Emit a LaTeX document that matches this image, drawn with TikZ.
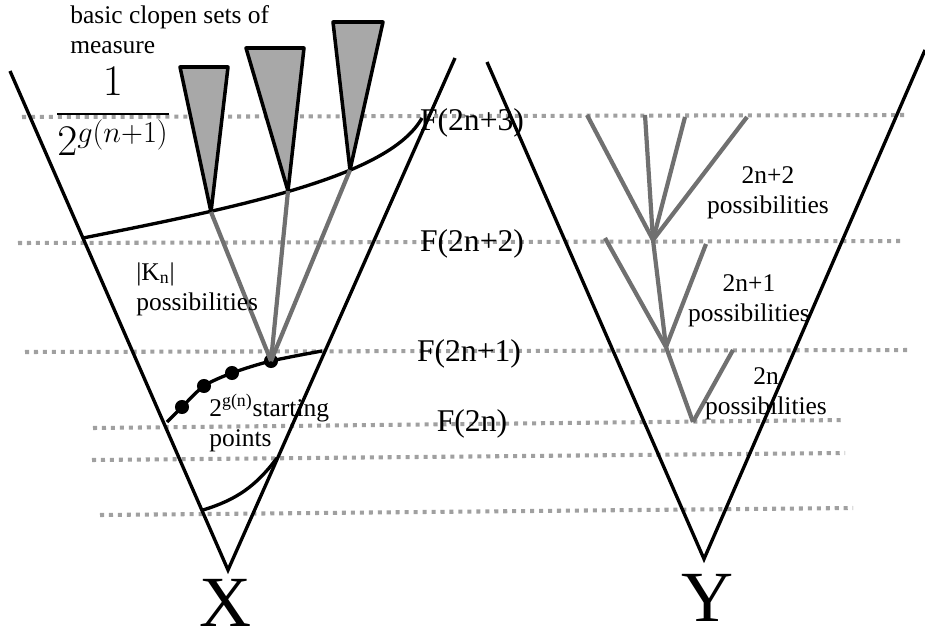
\documentclass[tikz,border=0pt]{standalone}
\usepackage{amsmath}
\usepackage{fontspec}
\setmainfont{Liberation Serif}
\usetikzlibrary{positioning}
\definecolor{branchgray}{HTML}{707070}
\definecolor{levelgray}{HTML}{A0A0A0}
\definecolor{conegray}{HTML}{A8A8A8}

\begin{document}
\begin{tikzpicture}[x=0.02cm, y=-0.02cm,
    cone/.style={black, line width=1.9pt},
    level/.style={levelgray, line width=2.3pt, dash pattern=on 2.3pt off 2.8pt},
    branch/.style={branchgray, line width=2.4pt},
    clopen/.style={draw=black, fill=conegray, line width=2pt, line join=round},
    lbl/.style={font=\fontsize{14.5}{17}\selectfont, align=center, inner sep=0pt},
    lvl/.style={font=\fontsize{18}{20}\selectfont, inner sep=0pt},
    big/.style={font=\fontsize{41}{44}\selectfont, inner sep=0pt},
    dot/.style={circle, fill=black, minimum size=8pt, inner sep=0pt}]
    \useasboundingbox (0,0) rectangle (925,639);

    % levels F(.)
    \draw[level] (22,117) -- (907,115);
    \draw[level] (18,243) -- (903,241);
    \draw[level] (25,352) -- (910,350);
    \draw[level] (93,428) -- (845,420);
    \draw[level] (92,460) -- (845,453);
    \draw[level] (100,515) -- (853,508);

    \node[lvl] (f3) at (472,123) {F(2n+3)};
    \node[lvl] (f2) at (472,244) {F(2n+2)};
    \node[lvl] (f1) at (469,354) {F(2n+1)};
    \node[lvl] (f0) at (472,424) {F(2n)};

    % the two cones
    \coordinate (xapex) at (228,570);
    \coordinate (yapex) at (704,559);
    \draw[cone] (10,71) -- (xapex) -- (455,58);
    \draw[cone] (487,62) -- (yapex) -- (925,50);
    \node[big, anchor=south] (xlab) at (226,627) {X};
    \node[big, anchor=south] (ylab) at (707,622) {Y};

    % basic clopen sets
    \coordinate (t1) at (211,212);
    \coordinate (t2) at (288,191);
    \coordinate (t3) at (350,170);
    \draw[clopen] (180,67) -- (228,67) -- (t1) -- cycle;
    \draw[clopen] (246,48) -- (304,48) -- (t2) -- cycle;
    \draw[clopen] (333,22) -- (383,22) -- (t3) -- cycle;
    \draw[cone] (83,238) .. controls (250,205) and (390,175) .. (422,118);

    % starting points
    \node[dot] (s1) at (182,407) {};
    \node[dot] (s2) at (204,386) {};
    \node[dot] (s3) at (232,373) {};
    \node[dot] (s4) at (271,361) {};
    \draw[cone] plot[smooth] coordinates {(167,422) (s1.center) (s2.center) (s3.center) (s4.center) (322,351)};
    \draw[branch] (s4.center) -- (t1);
    \draw[branch] (s4.center) -- (t2);
    \draw[branch] (s4.center) -- (t3);
    \draw[cone] (203,510) to[bend right=18] (277,458);

    % tree in Y
    \coordinate (ya) at (653,240);
    \coordinate (yb) at (666,347);
    \coordinate (yc) at (693,422);
    \foreach \p in {(587,115),(645,115),(685,117),(747,117)}
        \draw[branch] (ya) -- \p;
    \draw[branch] (yb) -- (ya);
    \draw[branch] (yb) -- (605,238);
    \draw[branch] (yb) -- (706,244);
    \draw[branch] (yc) -- (yb);
    \draw[branch] (yc) -- (733,350);

    % labels
    \node[lbl, align=left, anchor=west] (clopenlab) at (70,30) {basic clopen sets of\\measure};
    \node[font=\fontsize{26}{30}\selectfont, inner sep=0pt] (frac) at (113,111) {$\dfrac{1}{2^{g(n+1)}}$};
    \node[lbl, align=left, anchor=west] (klab) at (136,289) {|K\textsubscript{n}|\\possibilities};
    \node[lbl, align=left, anchor=west] (startlab) at (209,423) {2\textsuperscript{g(n)}starting\\points};
    \node[lbl] (p2) at (768,193) {2n+2\\possibilities};
    \node[lbl] (p1) at (749,301) {2n+1\\possibilities};
    \node[lbl] (p0) at (766,394) {2n\\possibilities};
\end{tikzpicture}
\end{document}
